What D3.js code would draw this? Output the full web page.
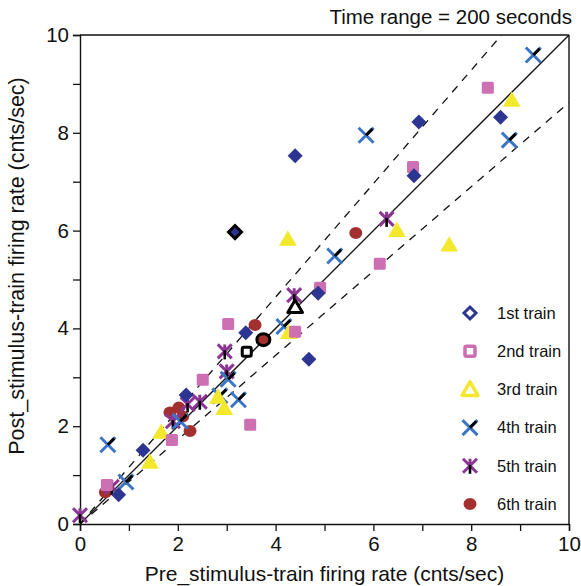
<!DOCTYPE html>
<html><head><meta charset="utf-8">
<script src="https://cdn.jsdelivr.net/npm/d3@7"></script>
<style>body{margin:0;background:#fff}svg{display:block}text{font-family:"Liberation Sans",Arial,sans-serif;fill:#111}</style>
</head><body><div id="c"></div>
<script>
// ---- data ----
const train1 = [[6.93,8.22],[8.60,8.32],[6.83,7.12],[4.40,7.53],[3.39,3.91],[4.68,3.37],[4.87,4.72],[2.17,2.64],[1.29,1.51],[0.79,0.60]];
const train1Special = [[3.17,5.97]];
const train2 = [[8.34,8.92],[6.81,7.30],[6.13,5.32],[4.91,4.83],[3.03,4.09],[4.40,3.93],[2.51,2.95],[3.48,2.03],[1.88,1.72],[0.55,0.80]];
const train2Special = [[3.41,3.52]];
const train3 = [[8.83,8.67],[4.25,5.83],[6.48,6.01],[7.55,5.71],[4.27,3.92],[2.82,2.60],[2.95,2.37],[1.66,1.88],[1.43,1.27]];
const train3Special = [[4.40,4.44]];
const train4 = [[9.27,9.59],[8.78,7.85],[5.85,7.95],[5.21,5.48],[4.17,4.04],[3.03,2.96],[2.86,2.62],[3.24,2.54],[0.57,1.62],[0.94,0.86],[2.05,2.10]];
const train5 = [[6.27,6.24],[4.38,4.68],[2.96,3.53],[3.00,3.12],[2.45,2.50],[2.20,2.45],[1.90,2.10],[0.65,0.76],[0.00,0.18]];
const train6 = [[5.64,5.95],[3.58,4.07],[1.84,2.28],[2.02,2.38],[2.10,2.20],[2.25,1.90],[0.52,0.65]];
const train6Special = [[3.75,3.77]];
const legendLabels = ["1st train","2nd train","3rd train","4th train","5th train","6th train"];
const xTicks = [0,1,2,3,4,5,6,7,8,9,10];
const yTicks = [0,1,2,3,4,5,6,7,8,9,10];
const tickLabels = [0,2,4,6,8,10];
const bandSlopes = [1.16, 1/1.16];
const titleText = "Time range = 200 seconds";
const xTitle = "Pre_stimulus-train firing rate (cnts/sec)";
const yTitle = "Post_stimulus-train firing rate (cnts/sec)";

const W=581,H=586, L=80,R=569,T=35,B=524;
const C = {blue:"#2c3592", pink:"#cc6fb3", yellow:"#f3e82c", xblue:"#3b76c6", purple:"#8c3694", red:"#a3302f"};
const svg = d3.select("#c").append("svg").attr("width",W).attr("height",H);
const x = d3.scaleLinear().domain([0,10]).range([L,R]);
const y = d3.scaleLinear().domain([0,10]).range([B,T]);

// reference lines
svg.append("clipPath").attr("id","cp").append("rect").attr("x",L).attr("y",T).attr("width",R-L).attr("height",B-T);
const lines = svg.append("g").attr("clip-path","url(#cp)");
lines.append("line").attr("x1",x(0)).attr("y1",y(0)).attr("x2",x(10)).attr("y2",y(10)).attr("stroke","#111").attr("stroke-width",1.3);
bandSlopes.forEach(s=>{
  const xe = s>1 ? 10/s : 10, ye = s>1 ? 10 : 10*s;
  lines.append("line").attr("x1",x(0)).attr("y1",y(0)).attr("x2",x(xe)).attr("y2",y(ye))
    .attr("stroke","#111").attr("stroke-width",1.3).attr("stroke-dasharray","8,7");
});

// axes
const xa = svg.append("g").attr("transform",`translate(0,${B})`).call(d3.axisBottom(x).tickValues(xTicks).tickSize(7).tickFormat(d=>tickLabels.includes(d)?d:""));
const ya = svg.append("g").attr("transform",`translate(${L},0)`).call(d3.axisLeft(y).tickValues(yTicks).tickSize(7).tickFormat(d=>tickLabels.includes(d)?d:""));
[xa,ya].forEach(a=>{a.select(".domain").attr("stroke","#111").attr("stroke-width",1.4);a.selectAll(".tick line").attr("stroke","#111").attr("stroke-width",1.3);
  a.selectAll("text").style("font-size","20.5px").attr("fill","#111").style("font-family","'Liberation Sans',Arial,sans-serif");});
xa.selectAll("text").attr("dy","0.95em").attr("y",8);
ya.selectAll("text").attr("x",-11);
svg.append("line").attr("x1",L).attr("x2",R).attr("y1",T).attr("y2",T).attr("stroke","#111").attr("stroke-width",1.4);
svg.append("line").attr("x1",R).attr("x2",R).attr("y1",T).attr("y2",B).attr("stroke","#111").attr("stroke-width",1.4);

// markers
function diamond(g,fill,stroke,sw,s){g.append("path").attr("d",`M0,${-s}L${s},0L0,${s}L${-s},0Z`).attr("fill",fill).attr("stroke",stroke).attr("stroke-width",sw);}
function square(g,fill,stroke,sw,s){g.append("rect").attr("x",-s).attr("y",-s).attr("width",2*s).attr("height",2*s).attr("rx",1.5).attr("fill",fill).attr("stroke",stroke).attr("stroke-width",sw);}
function tri(g,fill,stroke,sw,s){g.append("path").attr("d",`M0,${-s}L${s*1.05},${s*0.8}L${-s*1.05},${s*0.8}Z`).attr("fill",fill).attr("stroke",stroke).attr("stroke-width",sw).attr("stroke-linejoin","round");}
function cross4(g){const s=7.5;
  g.append("path").attr("d",`M${-s},${-s}L${s},${s}M${-s},${s}L${s},${-s}`).attr("stroke",C.xblue).attr("stroke-width",3);
  g.append("path").attr("d",`M0,0L${s*0.85},${-s*0.85}`).attr("stroke","#000").attr("stroke-width",3);}
function star5(g){const s=7;
  g.append("path").attr("d",`M${-s},${-s}L${s},${s}M${-s},${s}L${s},${-s}M0,${-s}L0,0`).attr("stroke",C.purple).attr("stroke-width",3);
  g.append("path").attr("d",`M0,-1L0,${s+1}`).attr("stroke","#000").attr("stroke-width",2.6);}
function circ(g,fill,stroke,sw){g.append("ellipse").attr("rx",6.5).attr("ry",6).attr("fill",fill).attr("stroke",stroke).attr("stroke-width",sw);}

const pts = svg.append("g");
function place(data,fn){data.forEach(d=>{fn(pts.append("g").attr("transform",`translate(${x(d[0])},${y(d[1])})`));});}
place(train6,g=>circ(g,C.red,"none",0));
place(train5,star5);
place(train4,cross4);
place(train3,g=>tri(g,C.yellow,"none",0,8.5));
place(train2,g=>square(g,C.pink,"none",0,6));
place(train1,g=>diamond(g,C.blue,"none",0,7.5));
place(train1Special,g=>diamond(g,C.blue,"#000",3,6.5));
place(train2Special,g=>square(g,"#fff","#000",3,4.5));
place(train3Special,g=>tri(g,"#fff","#000",3,7));
place(train6Special,g=>circ(g,C.red,"#000",3));

// legend
const legY = d3.scaleLinear().domain([0,5]).range([313,504]);
const leg = svg.append("g");
const legFns = [
  g=>diamond(g,"#fff",C.blue,3,6),
  g=>square(g,"#fff",C.pink,3.5,5),
  g=>tri(g,"#fff",C.yellow,3.5,7.5),
  cross4, star5,
  g=>circ(g,C.red,"none",0)
];
legendLabels.forEach((t,i)=>{
  legFns[i](leg.append("g").attr("transform",`translate(470,${legY(i)})`));
  leg.append("text").attr("x",497).attr("y",legY(i)).attr("dy","0.35em").style("font-size","16.5px").text(t);
});

// titles
svg.append("text").attr("x",572).attr("y",24).attr("text-anchor","end").style("font-size","20.5px").text(titleText);
svg.append("text").attr("x",(L+R)/2).attr("y",581).attr("text-anchor","middle").style("font-size","21px").text(xTitle);
svg.append("text").attr("transform",`translate(24,266) rotate(-90)`).attr("text-anchor","middle").style("font-size","21.5px").text(yTitle);
</script></body></html>
